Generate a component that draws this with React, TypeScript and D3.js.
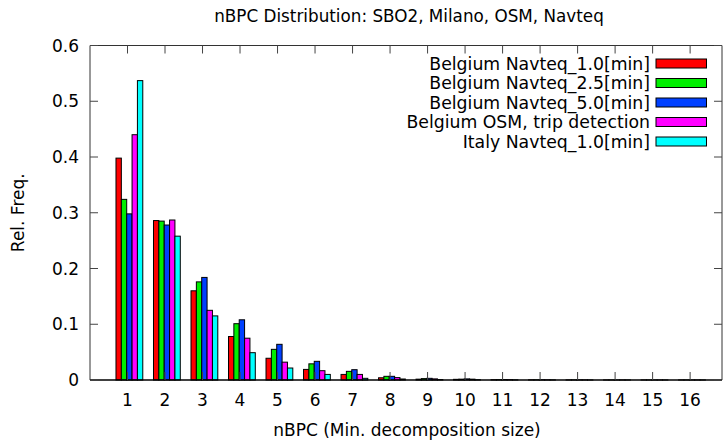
import React from "react";
import * as d3 from "d3";

const categories = [1, 2, 3, 4, 5, 6, 7, 8, 9, 10, 11, 12, 13, 14, 15, 16];
const seriesNames = [
  "Belgium Navteq_1.0[min]",
  "Belgium Navteq_2.5[min]",
  "Belgium Navteq_5.0[min]",
  "Belgium OSM, trip detection",
  "Italy Navteq_1.0[min]",
];
const colors = ["#ff0000", "#00ee00", "#0040ff", "#ff00ff", "#00ffff"];
const belgium10 = [0.398, 0.286, 0.16, 0.078, 0.039, 0.019, 0.01, 0.004, 0.0015, 0.0012, 0.0005, 0.0003, 0.0002, 0.0001, 0.0001, 0.0001];
const belgium25 = [0.324, 0.285, 0.176, 0.101, 0.055, 0.029, 0.0155, 0.0066, 0.0025, 0.0015, 0.0006, 0.0003, 0.0002, 0.0001, 0.0001, 0.0001];
const belgium50 = [0.298, 0.278, 0.184, 0.108, 0.064, 0.0335, 0.0185, 0.0066, 0.003, 0.002, 0.0008, 0.0004, 0.0002, 0.0001, 0.0001, 0.0001];
const belgiumOSM = [0.44, 0.287, 0.125, 0.075, 0.032, 0.0167, 0.01, 0.0043, 0.002, 0.0015, 0.0006, 0.0003, 0.0002, 0.0001, 0.0001, 0.0001];
const italy10 = [0.537, 0.258, 0.115, 0.049, 0.0215, 0.01, 0.003, 0.0018, 0.0008, 0.0005, 0.0003, 0.0002, 0.0001, 0.0001, 0.0001, 0.0001];
const yTicks = [0, 0.1, 0.2, 0.3, 0.4, 0.5, 0.6];

const series = [belgium10, belgium25, belgium50, belgiumOSM, italy10];

export default function App() {
  const W = 723, H = 441;
  const left = 90, right = 722, top = 45.5, bottom = 380;
  const x = d3.scaleLinear().domain([0, 16.85]).range([left, right]);
  const y = d3.scaleLinear().domain([0, 0.6]).range([bottom, top]);
  const bw = 1 / 7;
  const font = "DejaVu Sans, sans-serif";
  const tickLen = 8;
  const fs = 17;
  return (
    <svg width={W} height={H} style={{ position: "absolute", left: 0, top: 0 }} fontFamily={font}>
      <rect width={W} height={H} fill="#fff" />
      {series.map((vals, j) =>
        vals.map((v, i) => {
          const c = categories[i];
          const x0 = x(c + 0.05 - 2.5 * bw + j * bw);
          const x1 = x(c + 0.05 - 2.5 * bw + (j + 1) * bw);
          return (
            <rect
              key={`${j}-${i}`}
              x={x0}
              y={y(v)}
              width={x1 - x0}
              height={bottom - y(v)}
              fill={colors[j]}
              stroke="#000"
              strokeWidth={1}
            />
          );
        })
      )}
      <path d={`M${left},${bottom}V${top}H${right}V${bottom}`} fill="none" stroke="#333" strokeWidth={1} />
      <line x1={left} x2={right} y1={bottom} y2={bottom} stroke="#000" strokeWidth={1.5} />
      {yTicks.map((t) => (
        <g key={t}>
          <line x1={left} x2={left + tickLen} y1={y(t)} y2={y(t)} stroke="#444" strokeWidth={1} />
          <line x1={right} x2={right - tickLen} y1={y(t)} y2={y(t)} stroke="#444" strokeWidth={1} />
          <text x={79} y={y(t)} textAnchor="end" dominantBaseline="central" fontSize={fs}>
            {t === 0 ? "0" : d3.format(".1f")(t)}
          </text>
        </g>
      ))}
      {categories.map((c) => (
        <g key={c}>
          <line x1={x(c)} x2={x(c)} y1={bottom} y2={bottom - tickLen} stroke="#444" strokeWidth={1} />
          <line x1={x(c)} x2={x(c)} y1={top} y2={top + tickLen} stroke="#444" strokeWidth={1} />
          <text x={x(c)} y={400} textAnchor="middle" dominantBaseline="central" fontSize={fs}>
            {c}
          </text>
        </g>
      ))}
      <text x={409} y={16} textAnchor="middle" dominantBaseline="central" fontSize={16.8}>
        nBPC Distribution: SBO2, Milano, OSM, Navteq
      </text>
      <text x={407} y={430} textAnchor="middle" dominantBaseline="central" fontSize={fs}>
        nBPC (Min. decomposition size)
      </text>
      <text
        transform={`translate(18,${y(0.3)}) rotate(-90)`}
        textAnchor="middle"
        dominantBaseline="central"
        fontSize={fs}
      >
        Rel. Freq.
      </text>
      {seriesNames.map((name, j) => {
        const cy = 63.5 + j * 19.5;
        return (
          <g key={name}>
            <text x={650} y={cy} textAnchor="end" dominantBaseline="central" fontSize={17.3}>
              {name}
            </text>
            <rect x={656} y={cy - 4.5} width={50.5} height={9} fill={colors[j]} stroke="#000" strokeWidth={1} />
          </g>
        );
      })}
    </svg>
  );
}
